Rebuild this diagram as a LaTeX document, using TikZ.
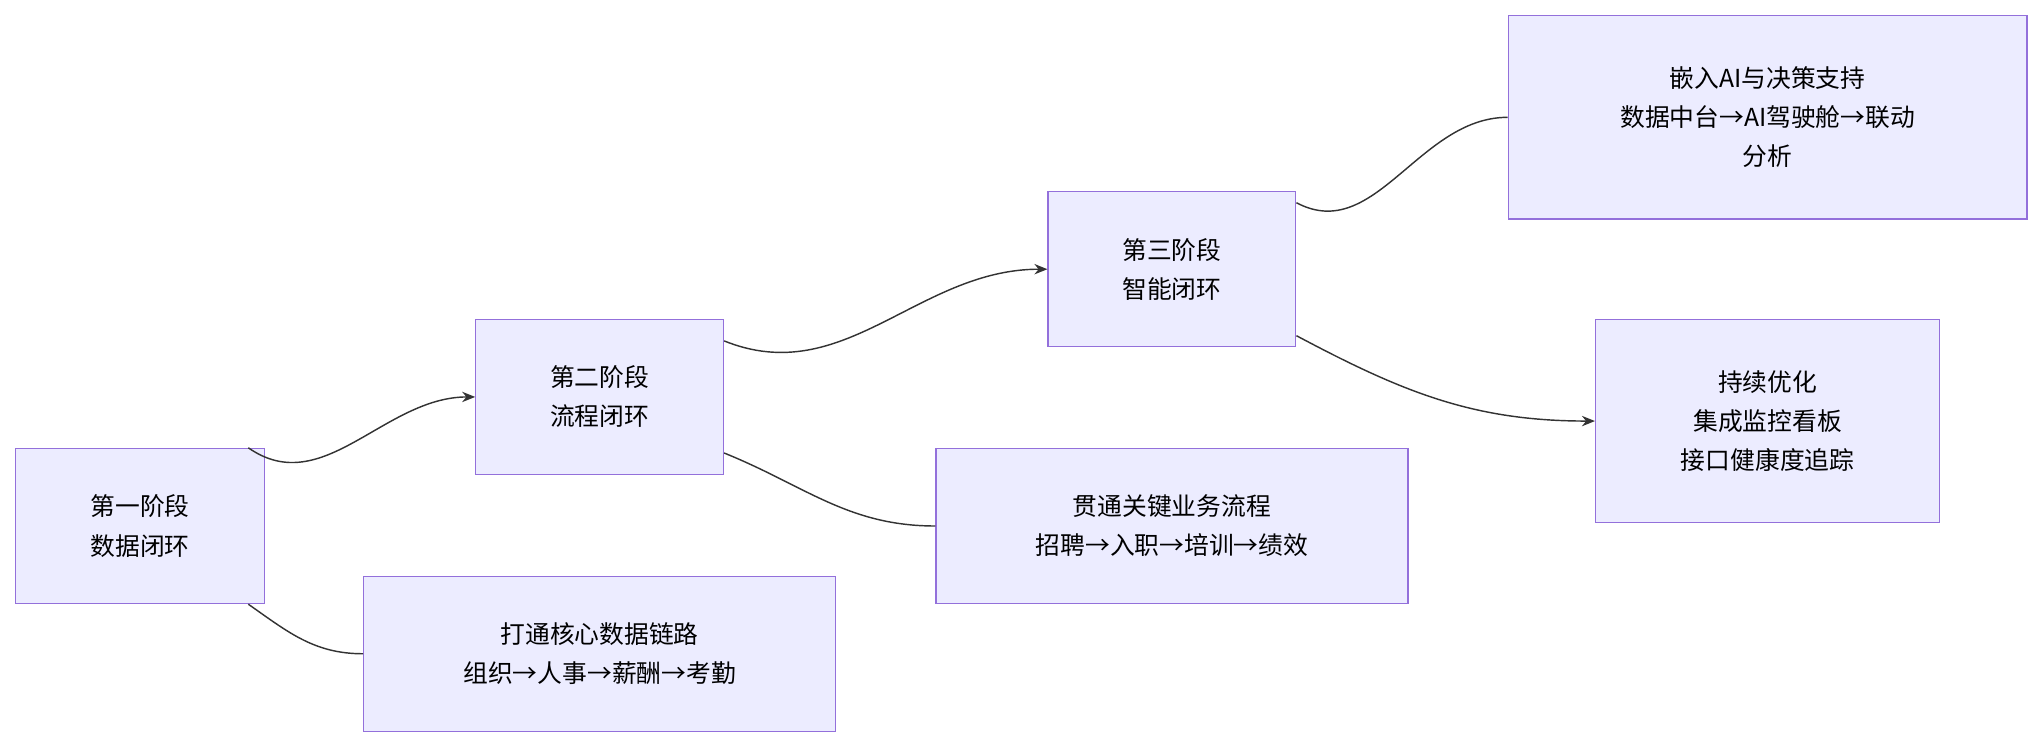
\documentclass[tikz,border=0pt]{standalone}
\usepackage{fontspec}
\setmainfont{Noto Sans CJK SC}
\usetikzlibrary{arrows.meta}
\definecolor{boxfill}{HTML}{ECECFF}
\definecolor{boxline}{HTML}{9370DB}
\definecolor{edgecol}{HTML}{333333}
\begin{document}
\begin{tikzpicture}[x=1pt,y=-1pt,
    stage/.style={draw=boxline,fill=boxfill,line width=1pt,align=center,
      font=\fontsize{19}{30}\selectfont,inner sep=0pt},
    link/.style={draw=edgecol,line width=1.1pt},
    flow/.style={link,-{Stealth[length=10pt,width=8pt]}}]
  \useasboundingbox (0,0) rectangle (1568,574);
  % nodes
  \node[stage,minimum width=191pt,minimum height=119pt] (P1) at (107.5,403.5) {第一阶段\\数据闭环};
  \node[stage,minimum width=362pt,minimum height=119pt] (P1a) at (460,501.5) {打通核心数据链路\\组织→人事→薪酬→考勤};
  \node[stage,minimum width=190pt,minimum height=119pt] (P2) at (460,304.5) {第二阶段\\流程闭环};
  \node[stage,minimum width=362pt,minimum height=119pt] (P2a) at (899,403.5) {贯通关键业务流程\\招聘→入职→培训→绩效};
  \node[stage,minimum width=190pt,minimum height=119pt] (P3) at (899,206.5) {第三阶段\\智能闭环};
  \node[stage,minimum width=398pt,minimum height=156pt] (P3a) at (1356,90) {嵌入AI与决策支持\\数据中台→AI驾驶舱→联动\\分析};
  \node[stage,minimum width=264pt,minimum height=156pt] (P3b) at (1356,323) {持续优化\\集成监控看板\\接口健康度追踪};
  % edges
  \draw[flow] ([xshift=-13pt]P1.north east) to[out=-35,in=180] (P2.west);
  \draw[link] ([xshift=-13pt]P1.south east) to[out=-35,in=180] (P1a.west);
  \draw[flow] ([yshift=-17pt]P2.north east) to[out=-22,in=180] (P3.west);
  \draw[link] ([yshift=17pt]P2.south east) to[out=-22,in=180] (P2a.west);
  \draw[link] ([yshift=-9pt]P3.north east) to[out=-28,in=180] (P3a.west);
  \draw[flow] ([yshift=9pt]P3.south east) to[out=-28,in=180] (P3b.west);
\end{tikzpicture}
\end{document}
